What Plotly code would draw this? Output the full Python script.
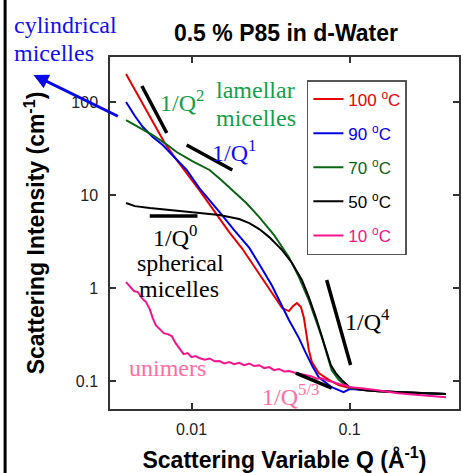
import plotly.graph_objects as go

# ---------------- data ----------------
tail_q = [0.122, 0.152, 0.203, 0.292, 0.407]
tail_i = [0.080, 0.078, 0.076, 0.074, 0.0725]

q_100 = [0.00385, 0.00438, 0.00492, 0.00585, 0.00676, 0.00805, 0.00931, 0.0112, 0.0144,
         0.0173, 0.0209, 0.0249, 0.0296, 0.0374, 0.0413, 0.0438, 0.0464, 0.0492, 0.0514,
         0.0529, 0.0552, 0.0577, 0.0638, 0.0738, 0.0853, 0.100] + tail_q
i_100 = [200, 134.6, 97.5, 56.6, 36.2, 23.8, 17.2, 11.3, 6.2,
         4.0, 2.66, 1.70, 1.08, 0.61, 0.565, 0.64, 0.69, 0.625, 0.476,
         0.328, 0.215, 0.16, 0.122, 0.103, 0.0906, 0.084] + tail_i

q_90 = [0.00385, 0.00438, 0.00492, 0.00568, 0.00657, 0.00782, 0.00931, 0.0112, 0.0130,
        0.0150, 0.0186, 0.0232, 0.0276, 0.0323, 0.0413, 0.0478, 0.0529, 0.0585, 0.0638,
        0.0771, 0.0853, 0.0916, 0.100] + tail_q
i_90 = [100, 70.7, 53.8, 42, 34.5, 25, 18.6, 11.9, 8.84,
        6.6, 4.2, 2.7, 1.66, 1.06, 0.453, 0.29, 0.2, 0.1415, 0.110,
        0.086, 0.080, 0.076, 0.082] + tail_i

q_70 = [0.00385, 0.00471, 0.00568, 0.00676, 0.00805, 0.0101, 0.0130, 0.0154, 0.0181,
        0.0222, 0.0268, 0.0333, 0.0413, 0.0478, 0.0552, 0.0611, 0.0667, 0.0771, 0.0853,
        0.100] + tail_q
i_70 = [64, 52.5, 44.2, 36.2, 29, 23.2, 18.6, 14.5, 11.3,
        8.2, 5.8, 3.71, 2.15, 1.31, 0.743, 0.453, 0.297, 0.131, 0.103,
        0.084] + tail_i

q_50 = [0.00385, 0.00438, 0.00544, 0.00727, 0.0101, 0.0150, 0.0200, 0.0232, 0.0268,
        0.0310, 0.0374, 0.0432, 0.0499, 0.0552, 0.0611, 0.0658, 0.0706, 0.0760, 0.0817,
        0.0891, 0.100] + tail_q
i_50 = [8.2, 7.6, 7.25, 6.9, 6.56, 6.1, 5.52, 5.0, 4.31,
        3.53, 2.56, 1.86, 1.22, 0.80, 0.488, 0.328, 0.215, 0.149, 0.122,
        0.103, 0.086] + tail_i

q_10 = [0.00385, 0.00407, 0.00432, 0.00457, 0.00485, 0.00515, 0.00544, 0.00568, 0.00594,
        0.00629, 0.00667, 0.00706, 0.00749, 0.00793, 0.0084, 0.0089, 0.00944, 0.0100,
        0.0106, 0.0112, 0.0121, 0.0130, 0.0140, 0.0150, 0.0161, 0.0173, 0.0186, 0.0200,
        0.0215, 0.0232, 0.0249, 0.0268, 0.0288, 0.0310, 0.0333, 0.0357, 0.0385, 0.0413,
        0.0457, 0.0514, 0.0569, 0.0620, 0.0667, 0.0738, 0.0793, 0.0853, 0.093, 0.100,
        0.119, 0.146, 0.176, 0.203, 0.272, 0.407]
i_10 = [1.16, 1.03, 0.93, 0.906, 0.78, 0.707, 0.594, 0.476, 0.40,
        0.362, 0.328, 0.32, 0.305, 0.256, 0.221, 0.195, 0.20, 0.181,
        0.186, 0.177, 0.170, 0.175, 0.163, 0.164, 0.155, 0.160, 0.152, 0.157,
        0.148, 0.154, 0.145, 0.148, 0.138, 0.1415, 0.131, 0.135, 0.127, 0.128,
        0.122, 0.116, 0.113, 0.106, 0.107, 0.100, 0.0975, 0.093, 0.0906, 0.086,
        0.084, 0.080, 0.076, 0.074, 0.0707, 0.067]

# guide lines (power laws)
q2_q = [0.00485, 0.00697];  q2_i = [148.6, 46.4]
q1_q = [0.00931, 0.0181];   q1_i = [34.5, 18.6]
q0_q = [0.00544, 0.0109];   q0_i = [5.95, 5.95]
q4_q = [0.0716, 0.1014];    q4_i = [1.22, 0.149]
q53_q = [0.0457, 0.0771];   q53_i = [0.122, 0.084]

x_tickvals = [0.01, 0.1]
x_ticktext = ["0.01", "0.1"]
y_tickvals = [0.1, 1, 10, 100]
y_ticktext = ["0.1", "1", "10", "100"]

series = [
    ("100", q_100, i_100, "#e60000"),
    ("90", q_90, i_90, "#0000e6"),
    ("70", q_70, i_70, "#0b6414"),
    ("50", q_50, i_50, "#000000"),
    ("10", q_10, i_10, "#f5148c"),
]

SANS = "Liberation Sans, Arial, sans-serif"
SERIF = "Liberation Serif, Times New Roman, serif"

fig = go.Figure()
for k, (lab, q, i, col) in enumerate(series):
    fig.add_trace(go.Scatter(
        x=q, y=i, mode="lines", line=dict(color=col, width=2),
        name=f"<span style='color:{col}'>{lab} <sup>o</sup>C</span>",
        legendgroup=f"g{k}"))

for gq, gi in [(q2_q, q2_i), (q1_q, q1_i), (q0_q, q0_i), (q4_q, q4_i), (q53_q, q53_i)]:
    fig.add_trace(go.Scatter(x=gq, y=gi, mode="lines", showlegend=False,
                             line=dict(color="black", width=3.5)))

W, H = 461, 473
L, R, T, B = 110, 0, 57, 64
pw, ph = W - L - R, H - T - B


def px(x):
    return (x - L) / pw


def py(y):
    return (H - B - y) / ph


def ann(text, x, y, color, size=24, family=SERIF, xanchor="left"):
    return dict(text=text, x=px(x), y=py(y), xref="paper", yref="paper",
                xanchor=xanchor, yanchor="middle", showarrow=False,
                font=dict(family=family, size=size, color=color), align="left")


annotations = [
    ann("cylindrical", 11, 25, "#1010ee"),
    ann("micelles", 11, 53, "#1010ee"),
    ann("lamellar", 215, 90, "#13a04a"),
    ann("micelles", 215, 118, "#13a04a"),
    ann("1/Q<sup>2</sup>", 158, 101, "#13a04a"),
    ann("1/Q<sup>1</sup>", 211, 151, "#1010ee"),
    ann("1/Q<sup>0</sup>", 175, 236, "black", xanchor="center"),
    ann("spherical", 181, 263, "black", xanchor="center"),
    ann("micelles", 179, 289, "black", xanchor="center"),
    ann("1/Q<sup>4</sup>", 344, 320, "black"),
    ann("unimers", 127, 368, "#ff6fa0"),
    ann("1/Q<sup>5/3</sup>", 261, 395, "#ff6fa0"),
    dict(x=px(33), y=py(75), xref="paper", yref="paper", text="", showarrow=True,
         ax=86, ay=42, arrowhead=2, arrowsize=1, arrowwidth=3, arrowcolor="#0a0ae6"),
]

fig.update_layout(
    width=W, height=H, margin=dict(l=L, r=R, t=T, b=B),
    paper_bgcolor="white", plot_bgcolor="white",
    title=dict(text="<b>0.5 % P85 in d-Water</b>", x=px(287), xref="paper",
               y=1 - 33 / H, yref="container", xanchor="center", yanchor="middle",
               font=dict(family=SANS, size=23, color="black")),
    xaxis=dict(type="log", range=[-2.516, -0.308], tickvals=x_tickvals, ticktext=x_ticktext,
               ticks="inside", ticklen=6, tickcolor="#333", tickwidth=1.5,
               showline=True, linecolor="#333", linewidth=1.5, mirror="ticks",
               showgrid=False, zeroline=False, ticklabelstandoff=5,
               tickfont=dict(family=SANS, size=16, color="#222"),
               title=dict(text="<b>Scattering Variable Q (Å<sup>-1</sup>)</b>",
                          font=dict(family=SANS, size=23, color="black"), standoff=15)),
    yaxis=dict(type="log", range=[-1.30, 2.484], tickvals=y_tickvals, ticktext=y_ticktext,
               ticks="inside", ticklen=6, tickcolor="#333", tickwidth=1.5,
               showline=True, linecolor="#333", linewidth=1.5, mirror="ticks",
               showgrid=False, zeroline=False, ticklabelstandoff=7,
               tickfont=dict(family=SANS, size=16, color="#222"),
               title=dict(text="<b>Scattering Intensity (cm<sup>-1</sup>)</b>",
                          font=dict(family=SANS, size=23, color="black"), standoff=20)),
    legend=dict(x=px(308), y=py(80), xanchor="left", yanchor="top",
                bgcolor="white", bordercolor="#555", borderwidth=1.5,
                font=dict(family=SANS, size=17, color="black"),
                tracegroupgap=9),
    annotations=annotations,
    shapes=[dict(type="line", xref="paper", yref="paper", x0=px(4.5), x1=px(4.5),
                 y0=py(H), y1=py(0), line=dict(color="black", width=3))],
    showlegend=True,
)

fig.write_html("out.html")
